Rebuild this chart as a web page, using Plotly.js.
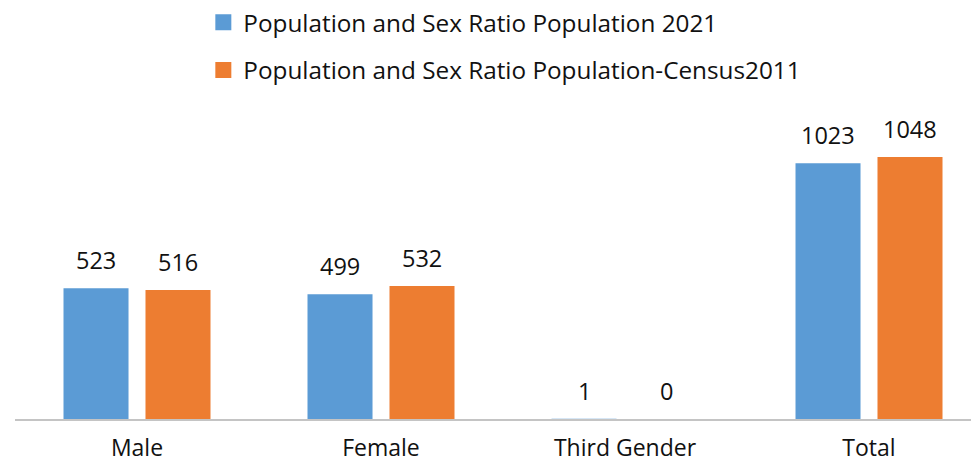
<!DOCTYPE html>
<html>
<head>
<meta charset="utf-8">
<script src="https://cdn.plot.ly/plotly-3.0.1.min.js"></script>
<style>html,body{margin:0;padding:0;background:#fff;}#chart{width:971px;height:463px;}</style>
</head>
<body>
<div id="chart"></div>
<script>
const categories = ["Male", "Female", "Third Gender", "Total"];
const seriesNames = ["Population and Sex Ratio Population 2021", "Population and Sex Ratio Population-Census2011"];
const pop2021 = [523, 499, 1, 1023];
const census2011 = [516, 532, 0, 1048];
const colors = ["#5B9BD5", "#ED7D31"];
const seriesValues = [pop2021, census2011];

const FONT = "Open Sans, Noto Sans, sans-serif";
const TXT = "#111111";
const FS = 23.5;

const traces = [];
seriesValues.forEach((vals, i) => {
  traces.push({
    type: "bar", x: categories, y: vals, name: seriesNames[i],
    marker: {color: colors[i]}, showlegend: false, hoverinfo: "none"
  });
});
seriesValues.forEach((vals, i) => {
  traces.push({
    type: "scatter", mode: "markers", x: [null], y: [null], name: seriesNames[i],
    legendgroup: "g" + i,
    marker: {color: colors[i], symbol: "square", size: 16}, hoverinfo: "none"
  });
});

const annotations = [];
const shifts = [-41, 41];
seriesValues.forEach((vals, i) => {
  vals.forEach((v, j) => {
    annotations.push({
      x: categories[j], y: v, xref: "x", yref: "y", text: String(v),
      showarrow: false, xshift: shifts[i], yanchor: "bottom", yshift: 10,
      font: {family: FONT, size: FS, color: TXT}
    });
  });
});

const layout = {
  width: 971, height: 463,
  margin: {l: 15, r: 0, t: 93, b: 44},
  paper_bgcolor: "#fff", plot_bgcolor: "#fff",
  barmode: "group", bargap: 0.328, bargroupgap: 0.207,
  font: {family: FONT, color: TXT},
  xaxis: {
    type: "category", range: [-0.5, 3.418], showgrid: false, zeroline: false,
    showline: true, linecolor: "#c4c4c4", linewidth: 2,
    ticks: "", tickfont: {family: FONT, size: 23, color: TXT}, ticklabelstandoff: 7
  },
  yaxis: {range: [0, 1300], visible: false, showgrid: false, zeroline: false},
  showlegend: true,
  legend: {
    x: 0.197, xanchor: "left", y: 1.29, yanchor: "top",
    font: {family: FONT, size: 24.3, color: TXT},
    tracegroupgap: 13, bgcolor: "rgba(0,0,0,0)"
  },
  annotations: annotations
};

Plotly.newPlot("chart", traces, layout, {displayModeBar: false, staticPlot: true});
</script>
</body>
</html>
